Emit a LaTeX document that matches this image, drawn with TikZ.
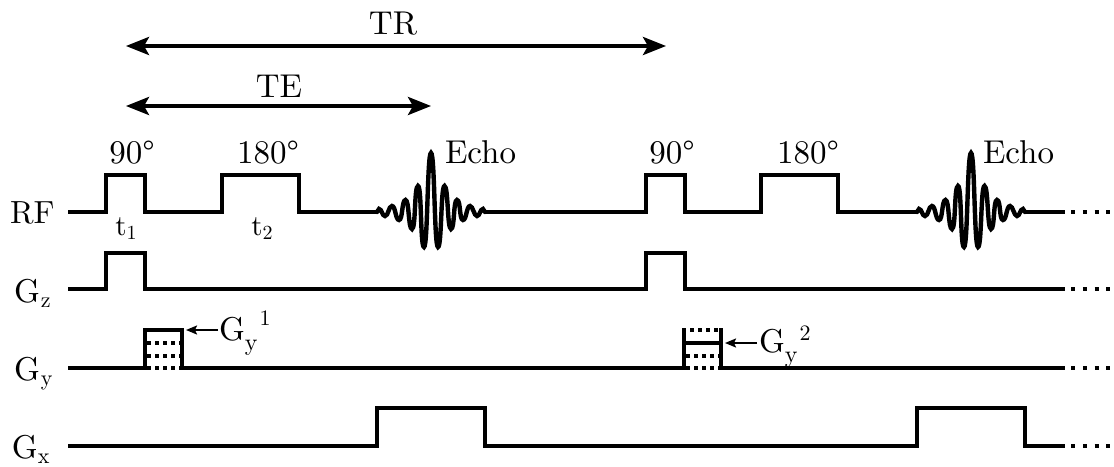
\documentclass[tikz,border=0pt]{standalone}
\usepackage{fontspec}
\setmainfont{lmroman10-regular.otf}
\usetikzlibrary{arrows.meta}
\newcommand{\fsz}[1]{\fontsize{#1}{#1}\selectfont}
\newcommand{\gsub}[3]{{\fsz{33}G\kern#3\raisebox{-5pt}{\fsz{#2}#1}}}
\newcommand{\gsubsup}[2]{{\fsz{33}G\kern0pt\raisebox{-10pt}{\fsz{24}y}\kern2pt\raisebox{#2}{\fsz{22}#1}}}
\tikzset{
  x=1pt,y=-1pt,
  lbl/.style={anchor=base,inner sep=0pt,outer sep=0pt,font=\fsz{33}},
  small/.style={anchor=base,inner sep=0pt,outer sep=0pt,font=\fsz{29}},
  axl/.style={anchor=base west,inner sep=0pt,outer sep=0pt,font=\fsz{33}},
  wave/.style={line width=3.8pt,line cap=butt,line join=miter,miter limit=10},
  dots/.style={line width=3.8pt,dash pattern=on 4pt off 4pt},
  cont/.style={line width=3.8pt,dash pattern=on 4pt off 7.8pt},
  span/.style={line width=3.8pt,{Stealth[length=23pt,width=18pt,inset=5pt]}-{Stealth[length=23pt,width=18pt,inset=5pt]}},
  point/.style={line width=1.8pt,-{Stealth[length=11pt,width=9pt,inset=2pt]}},
  echowave/.pic={
    \draw[line width=4.4pt,line cap=round] (-54,0)
      .. controls +(1.5,0) and +(-1.5,0) .. (-52,-3)
      .. controls +(3,0) and +(-3,0) .. (-46,4)
      .. controls +(3.5,0) and +(-3.5,0) .. (-39,-6)
      .. controls +(3.5,0) and +(-3.5,0) .. (-32,8)
      .. controls +(3.8,0) and +(-3.8,0) .. (-25.5,-12)
      .. controls +(3.8,0) and +(-3.8,0) .. (-19,17)
      .. controls +(3.8,0) and +(-3.8,0) .. (-13,-26)
      .. controls +(3.8,0) and +(-3.8,0) .. (-7,35)
      .. controls +(3.8,0) and +(-3.8,0) .. (0,-59)
      .. controls +(3.8,0) and +(-3.8,0) .. (7,35)
      .. controls +(3.8,0) and +(-3.8,0) .. (13.5,-26)
      .. controls +(3.8,0) and +(-3.8,0) .. (20,17)
      .. controls +(3.8,0) and +(-3.8,0) .. (26,-12)
      .. controls +(3.8,0) and +(-3.8,0) .. (32,8)
      .. controls +(3.5,0) and +(-3.5,0) .. (39,-6)
      .. controls +(3,0) and +(-3,0) .. (46,4)
      .. controls +(3,0) and +(-3,0) .. (52,-3)
      .. controls +(1,0) and +(-1,0) .. (54,0);
  }
}
\begin{document}
\begin{tikzpicture}
\useasboundingbox (0,0) rectangle (1114,466);
% spans
\coordinate (trL) at (126,46); \coordinate (trR) at (666,46);
\coordinate (teL) at (126,106); \coordinate (teR) at (431,106);
\draw[span] (trL) -- (trR);
\draw[span] (teL) -- (teR);
\node[lbl] (tr) at (393,34) {TR};
\node[lbl] (te) at (279,97) {TE};
% RF
\draw[wave] (68,212) -- (106,212) -- (106,175) -- (145,175) -- (145,212) -- (222,212) -- (222,175) -- (299,175) -- (299,212) -- (378,212);
\pic at (431,212) {echowave};
\draw[wave] (485,212) -- (646,212) -- (646,175) -- (685,175) -- (685,212) -- (761,212) -- (761,175) -- (838,175) -- (838,212) -- (918,212);
\pic at (971,212) {echowave};
\draw[wave] (1025,212) -- (1065,212);
\draw[cont] (1071,212) -- (1111,212);
% Gz
\draw[wave] (68,289) -- (106,289) -- (106,253) -- (145,253) -- (145,289) -- (646,289) -- (646,253) -- (685,253) -- (685,289) -- (1065,289);
\draw[cont] (1071,289) -- (1111,289);
% Gy
\draw[wave] (68,368) -- (145,368) -- (145,330) -- (182,330) -- (182,368) -- (646,368);
\draw[dots] (147,343) -- (180,343);
\draw[dots] (147,356) -- (180,356);
\draw[dots] (147,368) -- (180,368);
\draw[wave] (646,368) -- (684,368) -- (684,328.1);
\draw[wave] (721,328.1) -- (721,368) -- (1065,368);
\draw[wave] (684,343) -- (721,343);
\draw[dots] (690,330) -- (718,330);
\draw[dots] (686,356) -- (719,356);
\draw[dots] (686,368) -- (719,368);
\draw[cont] (1071,368) -- (1111,368);
% Gx
\draw[wave] (68,446) -- (377,446) -- (377,408) -- (485,408) -- (485,446) -- (917,446) -- (917,408) -- (1025,408) -- (1025,446) -- (1065,446);
\draw[cont] (1071,446) -- (1111,446);
% labels
\node[lbl] (a1) at (132,163) {90°};
\node[lbl] (a2) at (268,163) {180°};
\node[lbl] (a3) at (672,163) {90°};
\node[lbl] (a4) at (808,163) {180°};
\node[axl] (e1) at (445,163) {Echo};
\node[axl] (e2) at (983,163) {Echo};
\node[small] (t1) at (126,235) {t\raisebox{-4pt}{\fsz{20}1}};
\node[small] (t2) at (262,235) {t\raisebox{-4pt}{\fsz{20}2}};
\node[axl] (rf) at (10,223) {\fsz{32}RF};
\node[axl] (gz) at (14,302) {\gsub{z}{22}{1pt}};
\node[axl] (gy) at (14,380) {\gsub{y}{22}{1pt}};
\node[axl] (gx) at (12,458) {\gsub{x}{22}{0pt}};
% Gy callouts
\node[axl] (g1) at (219,340) {\gsubsup{1}{15pt}};
\node[axl] (g2) at (759,352) {\gsubsup{2}{12pt}};
\coordinate (p1) at (186,330);
\coordinate (p2) at (725,343);
\draw[point] (218,330) -- (p1);
\draw[point] (757,343) -- (p2);
\end{tikzpicture}
\end{document}
